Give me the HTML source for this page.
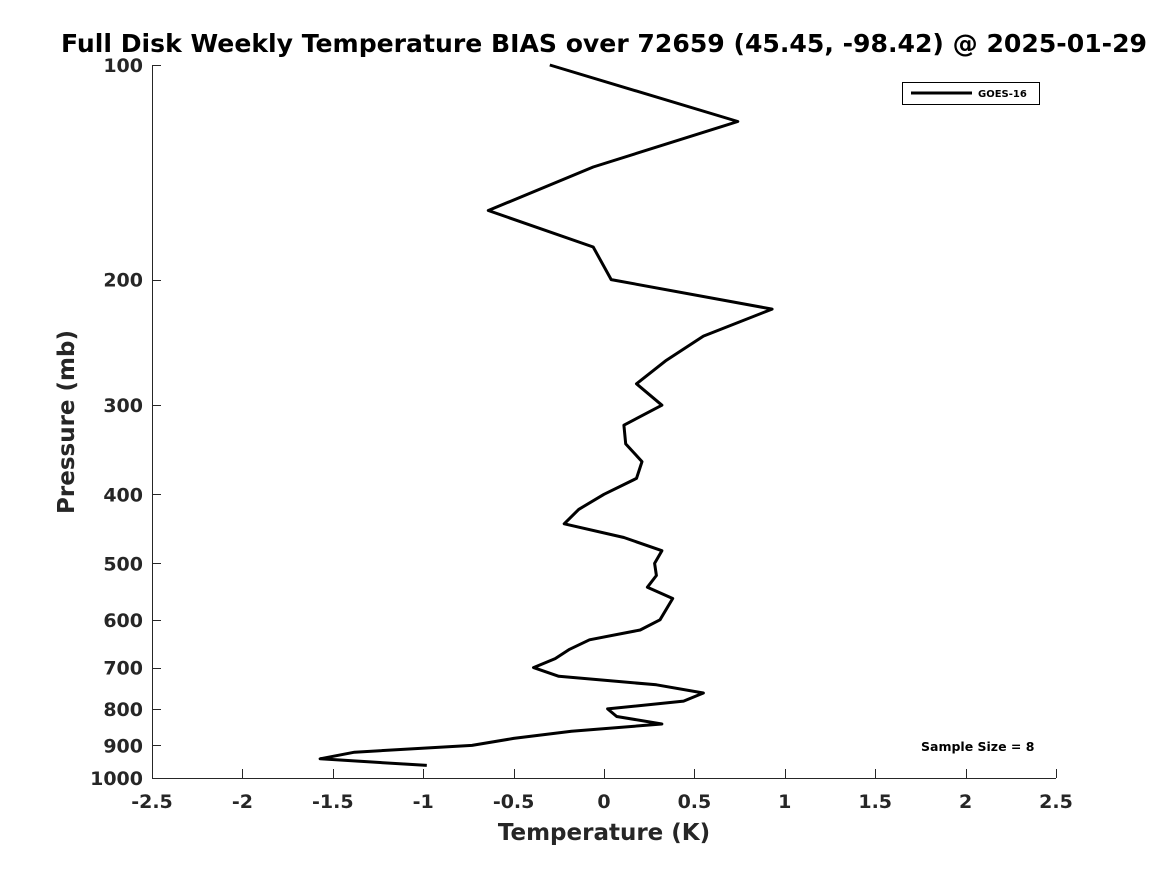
<!DOCTYPE html>
<html><head><meta charset="utf-8"><style>
body{margin:0;background:#fff;}
svg text{font-family:"DejaVu Sans","Liberation Sans",sans-serif;font-weight:bold;fill:#262626;}
</style></head><body>
<svg id="chart" width="1167" height="875" xmlns="http://www.w3.org/2000/svg">
<rect width="1167" height="875" fill="#fff"/>
<text x="604" y="52" text-anchor="middle" font-size="25" textLength="1086" lengthAdjust="spacingAndGlyphs" style="fill:#000">Full Disk Weekly Temperature BIAS over 72659 (45.45, -98.42) @ 2025-01-29</text>
<g id="axes"></g>
<polyline id="series-line" fill="none" stroke="#000" stroke-width="3" stroke-linejoin="round"/>
<g>
<rect x="902.5" y="82.5" width="137" height="22" fill="#fff" stroke="#000" stroke-width="1"/>
<line x1="911" y1="93" x2="972" y2="93" stroke="#000" stroke-width="3"/>
<text x="978" y="97" font-size="10" style="fill:#000">GOES-16</text>
</g>
<text x="921" y="751" font-size="12.5" style="fill:#000">Sample Size = 8</text>
<text x="604" y="840" text-anchor="middle" font-size="23">Temperature (K)</text>
<text transform="translate(74,422) rotate(-90)" text-anchor="middle" font-size="23">Pressure (mb)</text>
</svg>
<script>
const temps=[-0.30,0.74,-0.06,-0.64,-0.06,0.04,0.93,0.55,0.34,0.18,0.32,0.11,0.12,0.21,0.18,0.0,-0.14,-0.22,0.11,0.32,0.28,0.29,0.24,0.38,0.31,0.20,-0.08,-0.19,-0.27,-0.39,-0.25,0.29,0.55,0.44,0.02,0.07,0.32,-0.18,-0.50,-0.73,-1.38,-1.57,-0.98];
const pressures=[100,120,139,160,180,200,220,240,260,280,300,320,340,360,380,400,420,440,460,480,500,520,540,560,600,620,640,660,680,700,720,740,760,780,800,820,840,860,880,900,920,940,960];
const xTicks=[-2.5,-2,-1.5,-1,-0.5,0,0.5,1,1.5,2,2.5];
const xTickLabels=["-2.5","-2","-1.5","-1","-0.5","0","0.5","1","1.5","2","2.5"];
const yTicks=[100,200,300,400,500,600,700,800,900,1000];
const NS="http://www.w3.org/2000/svg";
const x0=152,x1=1056,y0=65,y1=778;
function xs(v){return x0+(v+2.5)/5*(x1-x0);}
function ys(p){return y0+Math.log10(p/100)*(y1-y0);}
const axes=document.getElementById('axes');
function mk(t,a){const e=document.createElementNS(NS,t);for(const k in a)e.setAttribute(k,a[k]);return e;}
const xa=mk('line',{x1:x0,y1:y1+0.5,x2:x1,y2:y1+0.5,stroke:'#262626','stroke-width':1});


axes.appendChild(xa);
const ya=mk('line',{x1:x0+0.5,y1:y0,x2:x0+0.5,y2:y1,stroke:'#262626','stroke-width':1});


axes.appendChild(ya);
xTicks.forEach((v,i)=>{const x=Math.round(xs(v))+0.5;
const t=mk('line',{x1:x,y1:y1,x2:x,y2:y1-9,stroke:'#262626'});


axes.appendChild(t);
const l=mk('text',{x:xs(v),y:808,'text-anchor':'middle','font-size':'19'});l.textContent=xTickLabels[i];


axes.appendChild(l);});
yTicks.forEach(p=>{const y=Math.round(ys(p))+0.5;
const t=mk('line',{x1:x0,y1:y,x2:x0+9,y2:y,stroke:'#262626'});


axes.appendChild(t);
const l=mk('text',{x:143,y:ys(p)+7,'text-anchor':'end','font-size':'19'});l.textContent=String(p);


axes.appendChild(l);});
document.getElementById('series-line').setAttribute('points',temps.map((t,i)=>xs(t).toFixed(1)+','+ys(pressures[i]).toFixed(1)).join(' '));
</script>
</body></html>
